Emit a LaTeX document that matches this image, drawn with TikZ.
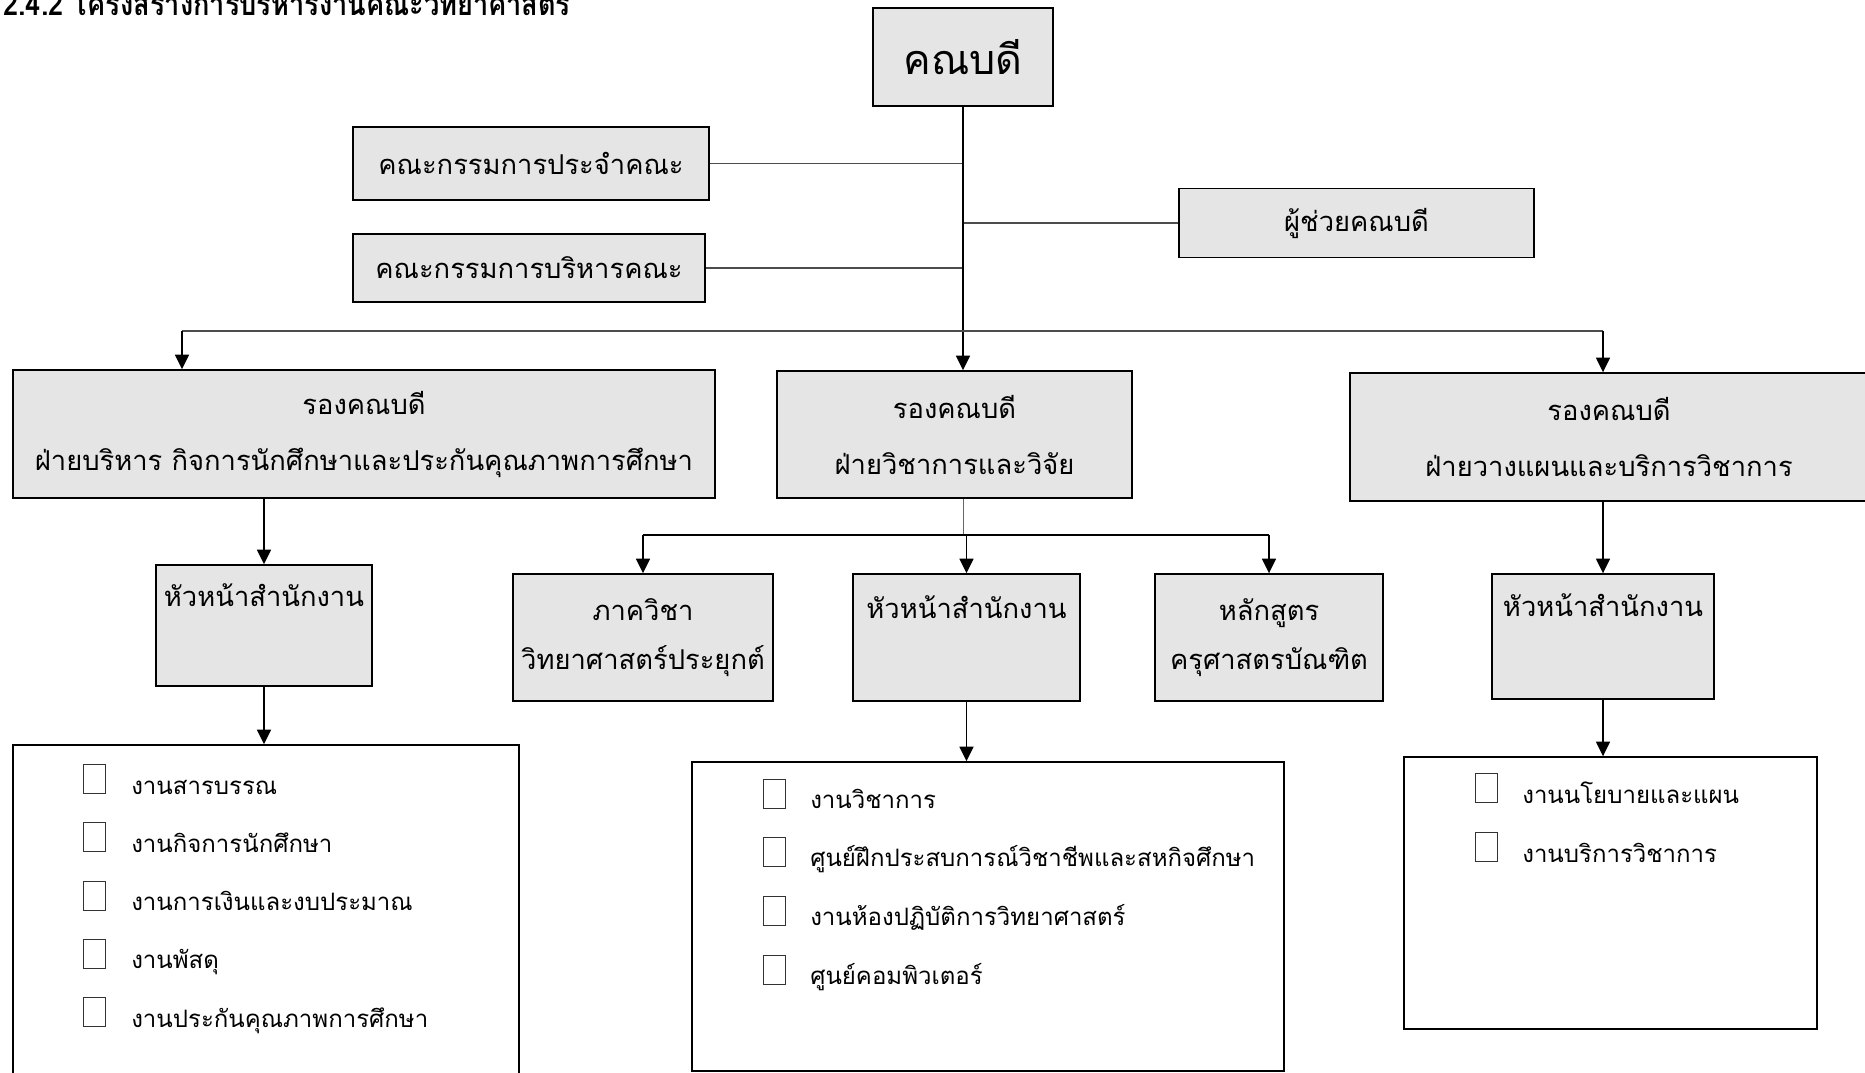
\documentclass[tikz,border=0pt]{standalone}
\usepackage{fontspec}
\setmainfont[Script=Thai]{Loma}
\usepackage{graphicx}
\usetikzlibrary{arrows.meta}

\tikzset{
  box/.style={draw=black, line width=1.1pt, fill=gray!20, inner sep=0pt, align=center, font=\fontsize{20.5}{37}\selectfont},
  vpbox/.style={box, font=\fontsize{20.5}{42}\selectfont},
  listbox/.style={draw=black, line width=1.1pt, inner sep=0pt},
  chk/.style={draw=black!80, line width=0.6pt, minimum width=16.5pt, minimum height=21.75pt, inner sep=0pt},
  item/.style={anchor=base west, inner sep=0pt, font=\fontsize{18}{20}\selectfont},
  arr/.style={line width=1.2pt, -{Triangle[width=10.5pt,length=11pt]}},
  conn/.style={draw=black!70, line width=1.1pt},
}

\begin{document}
\begin{tikzpicture}[x=0.75pt,y=0.75pt,yscale=-1,xscale=1]
\useasboundingbox (0,0) rectangle (1865,1073);

% Title
\node[anchor=base west, inner sep=0pt, font=\bfseries\fontsize{24}{26}\selectfont] (title) at (3,16) {\scalebox{0.85}[1]{2.4.2 โครงสร้างการบริหารงานคณะวิทยาศาสตร์}};

% Top level
\node[box, minimum width=135pt, minimum height=73.5pt, font=\fontsize{31}{36}\selectfont] (dean) at (963,57) {คณบดี};
\node[box, minimum width=267pt, minimum height=54.75pt] (comm1) at (531,163.5) {คณะกรรมการประจำคณะ};
\node[box, minimum width=264pt, minimum height=51pt] (comm2) at (529,268) {คณะกรรมการบริหารคณะ};
\node[box, minimum width=266.25pt, minimum height=51.75pt] (assist) at (1356.5,223) {ผู้ช่วยคณบดี};

% Vice deans
\node[vpbox, minimum width=526.5pt, minimum height=96pt] (vp1) at (364,434) {รองคณบดี\\ฝ่ายบริหาร กิจการนักศึกษาและประกันคุณภาพการศึกษา};
\node[vpbox, minimum width=266.25pt, minimum height=95.25pt] (vp2) at (954.5,434.5) {รองคณบดี\\ฝ่ายวิชาการและวิจัย};
\node[vpbox, minimum width=388.5pt, minimum height=96pt] (vp3) at (1609,437) {รองคณบดี\\ฝ่ายวางแผนและบริการวิชาการ};

% Third level
\node[box, minimum width=162pt, text height=31pt, text depth=59.75pt] (ho1) at (264,625.5) {หัวหน้าสำนักงาน};
\node[box, minimum width=195pt, minimum height=95.25pt] (dept) at (643,637.5) {ภาควิชา\\วิทยาศาสตร์ประยุกต์};
\node[box, minimum width=170.25pt, text height=33pt, text depth=62.25pt] (ho2) at (966.5,637.5) {หัวหน้าสำนักงาน};
\node[box, minimum width=171pt, minimum height=95.25pt] (cur) at (1269,637.5) {หลักสูตร\\ครุศาสตรบัณฑิต};
\node[box, minimum width=166.5pt, text height=31.5pt, text depth=62.25pt] (ho3) at (1603,636.5) {หัวหน้าสำนักงาน};

% Lists
\node[listbox, minimum width=379.5pt, minimum height=251.25pt] (list1) at (266,912.5) {};
\node[listbox, minimum width=444pt, minimum height=231.75pt] (list2) at (988,916.5) {};
\node[listbox, minimum width=309.75pt, minimum height=204pt] (list3) at (1610.5,893) {};

\foreach \txt [count=\i] in {งานสารบรรณ, งานกิจการนักศึกษา, งานการเงินและงบประมาณ, งานพัสดุ, งานประกันคุณภาพการศึกษา} {
  \node[chk] (chkA\i) at (94,779+58.3*\i-58.3) {};
  \node[item] (itemA\i) at (131,794+58.3*\i-58.3) {\txt};
}
\foreach \txt [count=\i] in {งานวิชาการ, ศูนย์ฝึกประสบการณ์วิชาชีพและสหกิจศึกษา, งานห้องปฏิบัติการวิทยาศาสตร์, ศูนย์คอมพิวเตอร์} {
  \node[chk] (chkB\i) at (774,793.5+58.7*\i-58.7) {};
  \node[item] (itemB\i) at (810,808+58.7*\i-58.7) {\txt};
}
\foreach \txt [count=\i] in {งานนโยบายและแผน, งานบริการวิชาการ} {
  \node[chk] (chkC\i) at (1486,788+59*\i-59) {};
  \node[item] (itemC\i) at (1522,803+59*\i-59) {\txt};
}

%Straight Lines
\draw[conn] (comm1.east) -- (comm1.east -| dean.south);
\draw[conn] (comm2.east) -- (comm2.east -| dean.south);
\draw[conn] (assist.west) -- (assist.west -| dean.south);
\draw[arr] (dean.south) -- (dean.south |- vp2.north);

\coordinate (busL) at (182,331);
\coordinate (busR) at (1603,331);
\draw[conn, line width=0.9pt] (busL) -- (busR);
\draw[arr] (busL) -- (busL |- vp1.north);
\draw[arr] (busR) -- (busR |- vp3.north);

\draw[arr] (ho1.north |- vp1.south) -- (ho1.north);
\draw[arr] (ho1.south) -- (ho1.south |- list1.north);

\coordinate (split) at (963,535);
\draw[draw=black!60, line width=0.6pt] (vp2.south -| split) -- (split);
\draw[line width=1.2pt] (split -| dept.north) -- (split -| cur.north);
\draw[arr] (split -| dept.north) -- (dept.north);
\draw[arr] (split -| ho2.north) -- (ho2.north);
\draw[arr] (split -| cur.north) -- (cur.north);
\draw[arr] (ho2.south) -- (ho2.south |- list2.north);

\draw[arr] (ho3.north |- vp3.south) -- (ho3.north);
\draw[arr] (ho3.south) -- (ho3.south |- list3.north);

\end{tikzpicture}
\end{document}
